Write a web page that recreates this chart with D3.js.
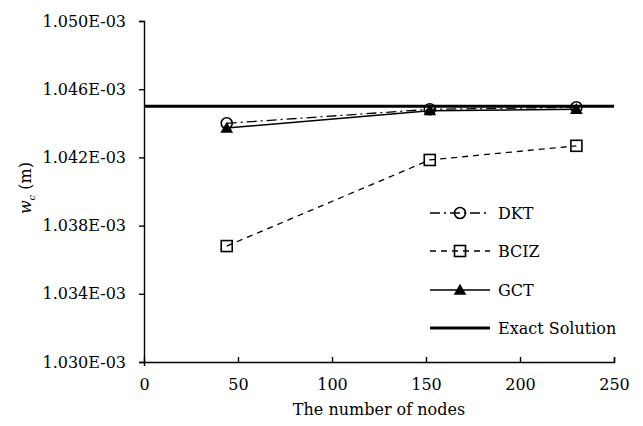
<!DOCTYPE html>
<html>
<head>
<meta charset="utf-8">
<script src="https://cdn.jsdelivr.net/npm/d3@7"></script>
<style>
  body { margin: 0; background: #fff; }
  svg text { font-family: "DejaVu Serif", serif !important; }
</style>
</head>
<body>
<div id="chart"></div>
<script>
// data
let nodes = [44, 152, 230];
let dkt  = [1.04400e-3, 1.04482e-3, 1.04494e-3];
let bciz = [1.03680e-3, 1.04185e-3, 1.04268e-3];
let gct  = [1.04372e-3, 1.04474e-3, 1.04482e-3];
let exactX = [0, 250];
let exactY = [1.04500e-3, 1.04500e-3];
let yTicks = [1.030e-3, 1.034e-3, 1.038e-3, 1.042e-3, 1.046e-3, 1.050e-3];
let xTicks = [0, 50, 100, 150, 200, 250];
let seriesNames = ["DKT", "BCIZ", "GCT", "Exact Solution"];

let width = 643, height = 426;
let margin = {left: 144, right: 29, top: 21, bottom: 64};

let svg = d3.select("#chart").append("svg")
    .attr("width", width)
    .attr("height", height);

let x = d3.scaleLinear().domain([0, 250]).range([margin.left, width - margin.right]);
let y = d3.scaleLinear().domain([1.030e-3, 1.050e-3]).range([height - margin.bottom, margin.top]);

//axes
let fmt = d => d3.format(".3e")(d).replace("e-3", "E-03");
let yAxis = svg.append("g")
    .attr("transform", `translate(${margin.left},0)`)
    .call(d3.axisLeft(y).tickValues(yTicks).tickFormat(fmt).tickSize(5).tickPadding(13));
let xAxis = svg.append("g")
    .attr("transform", `translate(0,${height - margin.bottom})`)
    .call(d3.axisBottom(x).tickValues(xTicks).tickSize(-5).tickPadding(17));
[xAxis, yAxis].forEach(a => {
    a.attr("font-size", 16);
    a.select(".domain").attr("stroke", "#000").attr("stroke-width", 1.4);
    a.selectAll(".tick line").attr("stroke", "#000").attr("stroke-width", 1.4);
    a.selectAll("text").attr("fill", "#000");
});
xAxis.select(".tick line").attr("y2", 4).attr("y1", -1);

//axis titles
svg.append("text")
    .attr("x", x(125))
    .attr("y", 415)
    .attr("text-anchor", "middle")
    .attr("font-size", 16)
    .text("The number of nodes");

let yl = svg.append("text")
    .attr("transform", `translate(31,${y(1.0402e-3)}) rotate(-90)`)
    .attr("text-anchor", "middle")
    .attr("font-size", 16);
yl.append("tspan").attr("font-style", "italic").text("w");
yl.append("tspan").attr("font-style", "italic").attr("font-size", 10).attr("dy", 4).text("c");
yl.append("tspan").attr("dy", -4).text(" (m)");

//series
let line = d3.line().x(d => x(d[0])).y(d => y(d[1]));
let styles = [
    {data: dkt, dash: "10,4,2,4", width: 1.3, marker: "circle"},
    {data: bciz, dash: "6,5", width: 1.3, marker: "square"},
    {data: gct, dash: null, width: 1.5, marker: "triangle"}
];

function drawMarker(g, type, cx, cy) {
    if (type === "circle") {
        g.append("circle").attr("cx", cx).attr("cy", cy).attr("r", 5.5)
            .attr("fill", "none").attr("stroke", "#000").attr("stroke-width", 1.6);
    } else if (type === "square") {
        g.append("rect").attr("x", cx - 5.5).attr("y", cy - 5.5).attr("width", 11).attr("height", 11)
            .attr("fill", "none").attr("stroke", "#000").attr("stroke-width", 1.6);
    } else {
        g.append("path").attr("d", d3.symbol(d3.symbolTriangle, 70)())
            .attr("transform", `translate(${cx},${cy + 1})`)
            .attr("fill", "#000");
    }
}

styles.forEach(s => {
    let pts = nodes.map((n, i) => [n, s.data[i]]);
    svg.append("path")
        .attr("d", line(pts))
        .attr("fill", "none")
        .attr("stroke", "#000")
        .attr("stroke-width", s.width)
        .attr("stroke-dasharray", s.dash);
    let g = svg.append("g");
    pts.forEach(p => drawMarker(g, s.marker, x(p[0]), y(p[1])));
});

svg.append("path")
    .attr("d", line(exactX.map((v, i) => [v, exactY[i]])))
    .attr("stroke", "#000")
    .attr("stroke-width", 3.2)
    .attr("fill", "none");

//legend
let legRows = [213, 251, 290, 328];
let leg = svg.append("g");
seriesNames.forEach((name, i) => {
    let ly = legRows[i];
    let s = styles[i];
    leg.append("line")
        .attr("x1", 430).attr("x2", 490).attr("y1", ly).attr("y2", ly)
        .attr("stroke", "#000")
        .attr("stroke-width", s ? s.width : 3.2)
        .attr("stroke-dasharray", s ? s.dash : null);
    if (s) drawMarker(leg, s.marker, 460, ly);
    leg.append("text")
        .attr("x", 498).attr("y", ly + 6)
        .attr("font-size", 16)
        .text(name);
});
</script>
</body>
</html>
